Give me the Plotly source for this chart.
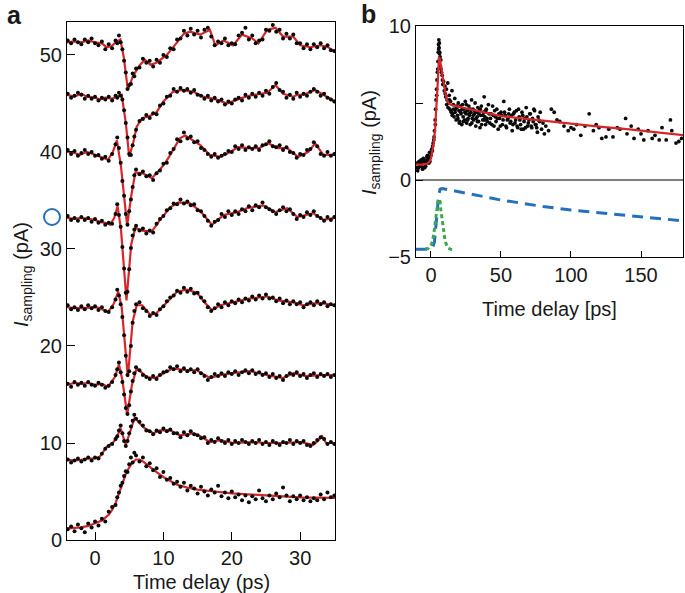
import plotly.graph_objects as go

# ---------------- Panel a data ----------------
# sampling grid of the measured points (ps)
DOT_T = [-4, -3.5, -3, -2.5, -2, -1.5, -1, -0.5, 0, 0.5, 1, 1.5, 2, 2.5,
         3, 3.25, 3.5, 3.75, 4, 4.25, 4.5, 4.75, 5, 5.25, 5.5, 5.75,
         6, 6.5, 7, 7.5, 8, 8.5, 9, 9.5, 10, 10.5, 11, 11.5, 12, 12.5, 13, 13.5,
         14, 14.5, 15, 15.5, 16, 16.5, 17, 17.5, 18, 18.5, 19, 19.5, 20, 20.5,
         21, 21.5, 22, 22.5, 23, 23.5, 24, 24.5, 25, 25.5, 26, 26.5, 27, 27.5,
         28, 28.5, 29, 29.5, 30, 30.5, 31, 31.5, 32, 32.5, 33, 33.5, 34, 34.5, 35]

dots_t8 = [51.5, 51.2, 51.6, 51.3, 51.1, 51.6, 51.3, 51.7, 51.2, 51.0, 51.4, 50.6, 51.1, 50.7,
           51.5, 51.2, 52.0, 51.3, 50.6, 49.4, 48.2, 46.5, 46.9, 47.0, 48.1, 47.8,
           48.6, 48.7, 49.6, 49.2, 49.4, 48.8, 49.5, 49.2, 50.0, 49.8, 50.7, 50.6, 51.6, 51.7, 52.5, 52.0,
           52.7, 52.1, 52.5, 51.8, 52.6, 52.8, 51.9, 51.0, 51.4, 51.2, 51.7, 51.0, 51.2, 51.1,
           52.0, 52.3, 52.8, 51.6, 52.0, 51.2, 51.5, 51.6, 52.6, 52.5, 53.1, 52.4, 52.6, 51.7,
           52.2, 51.7, 52.1, 51.2, 51.2, 50.7, 51.1, 50.6, 51.1, 50.8, 51.2, 50.7, 51.0, 50.5, 50.4]
dots_t7 = [46.0, 45.6, 45.8, 46.1, 45.9, 45.5, 45.8, 45.5, 45.7, 45.3, 45.6, 45.4, 45.7, 45.3,
           45.8, 45.6, 46.1, 45.8, 45.4, 44.3, 43.0, 41.5, 39.8, 39.7, 40.7, 41.6,
           42.3, 43.2, 43.4, 43.8, 43.5, 44.0, 43.9, 44.8, 45.0, 45.7, 45.8, 46.5, 46.2, 46.6, 46.3, 46.5,
           46.1, 46.4, 45.9, 45.8, 45.5, 45.8, 45.3, 45.6, 45.2, 45.4, 44.9, 45.2, 45.0, 45.4,
           45.6, 45.3, 45.9, 45.6, 46.0, 45.7, 46.1, 45.8, 46.3, 46.0, 46.7, 47.1, 46.4, 46.2,
           45.6, 45.9, 45.5, 46.1, 45.7, 46.0, 45.8, 46.2, 46.5, 46.2, 45.8, 46.0, 45.6, 45.4, 45.2]
dots_t6 = [40.2, 39.8, 40.1, 39.6, 39.9, 40.2, 39.8, 40.0, 39.6, 39.7, 39.3, 39.5, 39.1, 39.8,
           40.8, 41.5, 40.4, 38.9, 37.0, 35.5, 33.6, 32.5, 33.9, 35.1, 36.4, 37.6,
           38.2, 37.7, 38.0, 37.5, 37.6, 37.1, 37.8, 38.1, 38.8, 38.9, 39.9, 40.3, 41.3, 41.1, 42.0, 41.4,
           41.6, 41.0, 41.1, 40.4, 40.2, 39.8, 39.5, 39.8, 39.4, 39.6, 39.8, 40.1, 40.0, 40.6,
           40.3, 40.7, 40.2, 40.5, 40.3, 40.6, 40.2, 40.7, 40.8, 41.1, 40.6, 40.5, 40.7, 40.2,
           40.5, 40.0, 39.9, 39.4, 39.8, 39.7, 40.2, 40.3, 41.0, 40.6, 39.8, 39.6, 40.0, 39.6, 39.8]
dots_t5 = [33.4, 33.0, 33.2, 32.9, 33.3, 33.0, 33.2, 32.8, 33.1, 32.7, 32.9, 32.5, 32.7, 32.6,
           33.6, 34.6, 33.5, 32.3, 30.2, 28.0, 25.5, 25.6, 27.9, 30.1, 31.4, 32.0,
           32.4, 31.9, 32.1, 31.6, 31.9, 31.7, 32.6, 33.1, 33.4, 34.0, 34.2, 34.7, 34.6, 35.1, 34.7, 34.9,
           34.5, 34.6, 34.0, 33.9, 33.4, 32.9, 32.4, 32.8, 33.0, 33.6, 33.3, 33.9, 33.5, 33.9,
           33.6, 34.1, 33.9, 34.4, 34.0, 34.5, 34.3, 34.8, 34.3, 34.1, 33.9, 33.6, 34.0, 34.3,
           33.9, 34.1, 33.6, 33.1, 33.5, 33.3, 33.8, 33.5, 33.9, 33.4, 33.2, 32.9, 33.3, 33.0, 33.3]
dots_t4 = [24.2, 23.8, 24.0, 23.7, 24.1, 23.8, 24.2, 23.9, 24.1, 23.7, 24.0, 23.6, 23.5, 24.0,
           24.8, 25.8, 25.2, 24.3, 23.0, 21.1, 19.0, 17.0, 17.4, 20.0, 22.4, 23.6,
           24.3, 24.5, 23.9, 23.6, 23.1, 23.4, 23.2, 23.8, 24.1, 24.6, 25.0, 25.2, 25.7, 25.5, 26.0, 25.6,
           25.9, 25.4, 25.5, 25.0, 24.6, 24.0, 23.6, 23.9, 24.3, 24.0, 24.5, 24.2, 24.6, 24.4,
           24.8, 24.5, 24.9, 24.7, 25.1, 24.8, 25.2, 24.9, 25.3, 24.9, 25.0, 24.6, 24.9, 24.4,
           24.7, 24.3, 24.6, 24.3, 24.5, 24.0, 24.3, 24.5, 24.2, 24.6, 24.3, 24.5, 24.1, 24.3, 24.2]
dots_t3 = [16.1, 15.8, 16.3, 16.0, 16.2, 15.9, 16.3, 16.0, 15.9, 16.2, 16.0, 15.7, 15.9, 16.3,
           17.0, 17.6, 18.3, 17.3, 16.3, 15.0, 13.6, 13.0, 13.9, 15.3, 16.4, 17.2,
           17.8, 17.5, 17.0, 16.8, 16.6, 16.9, 16.6, 17.0, 17.3, 17.4, 17.8, 17.6, 17.9, 17.4, 17.7, 17.4,
           17.6, 17.3, 17.6, 17.2, 16.9, 16.5, 16.8, 17.1, 16.9, 17.2, 16.9, 17.3, 17.1, 17.4,
           17.0, 17.3, 17.5, 17.2, 17.5, 17.1, 17.3, 17.0, 17.2, 16.8, 17.1, 16.7, 16.9, 16.5,
           16.9, 17.2, 17.0, 17.3, 16.9, 17.1, 16.7, 17.0, 17.2, 16.8, 17.1, 16.9, 17.1, 16.8, 17.0]
dots_t2 = [8.3, 8.0, 8.2, 8.4, 8.1, 8.3, 8.5, 8.2, 8.5, 8.4, 8.9, 9.4, 9.7, 9.9,
           10.4, 10.7, 11.3, 11.8, 11.0, 10.2, 9.7, 10.2, 11.0, 11.7, 12.3, 12.9,
           12.5, 12.2, 11.8, 11.3, 11.2, 10.9, 11.3, 11.1, 11.5, 11.2, 11.4, 11.0, 11.0, 10.6, 11.1, 10.8,
           11.2, 10.9, 10.8, 10.5, 10.6, 10.0, 10.3, 10.1, 10.5, 10.2, 10.0, 10.3, 9.9, 10.2,
           10.0, 10.3, 10.1, 9.9, 10.2, 10.0, 10.3, 9.9, 10.1, 9.8, 10.2, 10.0, 9.8, 10.1,
           10.0, 10.3, 9.9, 10.2, 10.0, 10.2, 9.8, 9.7, 10.0, 10.3, 10.6, 10.4, 9.9, 10.1, 9.9]
dots_t1 = [1.1, 1.4, 0.9, 1.6, 1.2, 0.8, 1.7, 1.3, 1.9, 1.5, 2.2, 1.9, 2.9, 3.4,
           3.6, 4.4, 4.9, 5.6, 5.9, 6.6, 7.1, 7.0, 7.8, 8.5, 8.0, 9.0,
           8.7, 8.1, 8.5, 7.6, 7.9, 7.2, 7.4, 6.5, 7.0, 6.2, 6.4, 5.8, 6.0, 5.5, 5.9, 5.1,
           5.6, 5.3, 4.8, 5.5, 5.0, 4.6, 5.2, 4.9, 5.6, 4.5, 4.9, 4.3, 5.0, 4.4,
           4.7, 4.1, 4.6, 3.9, 4.5, 4.2, 5.1, 4.3, 4.0, 4.6, 4.2, 4.8, 4.4, 5.4,
           4.6, 4.0, 4.5, 4.2, 4.6, 4.1, 4.4, 4.0, 4.3, 4.1, 4.7, 4.2, 4.9, 4.4, 4.6]

# smoothed (red) curves: (time, value) pairs
fit_t8_t = [-4.1, -3, -2, -1, 0, 1, 1.7, 2.4, 3.0, 3.7, 4.2, 4.8, 5.6, 6.6, 7.3, 8.1, 9.0, 10.5, 12.0, 13.0,
            13.9, 15.4, 16.8, 17.6, 18.8, 20.2, 21.5, 23.0, 23.9, 25.2, 26.4, 27.5, 29.0, 30.0, 31.5, 33.0, 34.1, 35.1]
fit_t8_y = [51.3, 51.4, 51.3, 51.5, 51.3, 51.2, 50.8, 50.9, 51.3, 51.6, 49.8, 46.4, 47.9, 49.0, 49.5, 49.0, 49.2, 50.0, 51.3, 52.2,
            52.4, 52.1, 52.6, 51.0, 51.5, 51.0, 52.1, 51.7, 51.2, 52.6, 52.8, 51.9, 51.9, 51.0, 50.8, 51.0, 50.8, 50.3]
fit_t7_t = [-4.1, -3, -2, -1.2, 0, 0.7, 1.5, 2.5, 3.2, 3.9, 4.5, 5.0, 5.6, 6.1, 6.9, 7.6, 8.3, 9.0, 10.0, 11.4,
            12.7, 14.4, 15.8, 17.8, 19.3, 20.2, 21.2, 22.5, 23.7, 25.2, 26.4, 27.5, 29.0, 29.6, 30.5, 32.2, 33.4, 35.1]
fit_t7_y = [45.9, 45.7, 46.0, 45.7, 45.6, 45.4, 45.6, 45.5, 45.7, 45.9, 43.0, 39.5, 41.0, 42.6, 43.5, 43.6, 43.8, 44.1, 45.2, 46.2,
            46.4, 46.2, 45.7, 45.4, 45.0, 45.2, 45.5, 45.8, 45.9, 46.1, 46.9, 46.0, 45.7, 45.9, 45.9, 46.4, 45.9, 45.2]
fit_t6_t = [-4.1, -3, -2.2, -1.2, -0.3, 0.7, 1.9, 2.6, 3.2, 3.8, 4.7, 5.3, 5.9, 7.0, 8.3, 9.5, 10.3, 11.0, 12.4, 13.2,
            13.9, 15.4, 16.8, 18.3, 19.8, 20.9, 22.7, 24.0, 25.3, 26.8, 28.1, 29.7, 31.2, 32.2, 33.4, 35.1]
fit_t6_y = [40.0, 39.9, 39.7, 40.0, 39.8, 39.5, 39.2, 40.0, 41.2, 38.5, 32.4, 35.5, 37.9, 37.8, 37.3, 38.2, 38.9, 39.7, 41.4, 41.7,
            41.4, 40.7, 39.7, 39.5, 40.0, 40.5, 40.4, 40.4, 40.9, 40.4, 40.4, 39.5, 40.0, 40.9, 39.7, 39.7]
fit_t5_t = [-4.1, -3, -2, -1.2, 0, 0.7, 1.5, 2.2, 2.8, 3.3, 3.8, 4.6, 5.3, 5.9, 6.9, 8.3, 9.5, 11.0, 12.2, 13.9,
            15.4, 17.1, 18.8, 20.8, 22.2, 24.6, 26.4, 28.1, 29.6, 31.9, 33.4, 35.1]
fit_t5_y = [33.2, 33.1, 33.2, 33.1, 33.0, 32.8, 32.7, 32.5, 33.2, 34.4, 32.0, 24.7, 30.5, 32.2, 31.9, 31.8, 33.0, 34.3, 34.8, 34.7,
            33.9, 32.5, 33.5, 33.8, 34.2, 34.5, 33.8, 34.2, 33.3, 33.7, 33.0, 33.2]
fit_t4_t = [-4.1, -3, -1.7, 0, 0.7, 1.9, 2.7, 3.4, 3.9, 4.8, 5.5, 6.1, 6.9, 8.1, 9.0, 10.5, 12.0, 13.4, 14.9, 16.0,
            17.1, 18.3, 20.2, 22.7, 25.2, 26.7, 29.0, 30.5, 31.9, 33.4, 35.1]
fit_t4_y = [24.0, 23.9, 23.9, 24.0, 23.9, 23.5, 24.3, 25.6, 24.0, 16.8, 22.5, 24.2, 24.2, 23.2, 23.4, 24.5, 25.6, 25.8, 25.5, 24.5,
            23.7, 24.2, 24.5, 24.9, 25.1, 24.7, 24.5, 24.2, 24.4, 24.4, 24.2]
fit_t3_t = [-4.1, -3, -2, -1, 0, 1, 1.9, 2.9, 3.5, 4.0, 4.7, 5.4, 6.1, 7.6, 8.8, 10.0, 11.4, 13.4, 14.9, 16.8,
            18.3, 20.2, 22.7, 25.2, 27.5, 29.0, 30.8, 33.0, 35.1]
fit_t3_y = [16.0, 16.2, 16.1, 16.2, 16.0, 16.1, 15.8, 16.8, 18.1, 16.5, 12.9, 16.0, 17.7, 16.8, 16.7, 17.2, 17.7, 17.5, 17.5, 16.7,
            17.0, 17.2, 17.4, 17.0, 16.7, 17.2, 16.9, 17.0, 17.0]
fit_t2_t = [-4.1, -3, -2.2, -1, 0, 0.7, 1.7, 2.7, 3.2, 3.7, 4.5, 5.8, 7.1, 8.5, 9.5, 11.0, 12.4, 14.4, 15.4, 16.8,
            18.3, 20.2, 22.7, 25.2, 27.5, 30.0, 31.9, 32.6, 33.2, 33.8, 35.1]
fit_t2_y = [8.25, 8.2, 8.25, 8.4, 8.4, 8.6, 9.6, 10.1, 10.5, 11.6, 9.8, 12.6, 11.6, 11.0, 11.3, 11.3, 10.8, 11.0, 10.7, 10.1,
            10.3, 10.0, 10.1, 10.0, 10.0, 10.1, 9.8, 10.2, 10.7, 10.0, 10.0]
fit_t1_t = [-4.1, -3, -2, -1, 0, 1, 1.5, 2, 2.5, 3, 3.5, 4, 4.5, 5, 5.5, 6, 6.5, 7, 8, 9,
            10, 11, 12, 13.5, 15, 17.5, 20, 25, 30, 35.1]
fit_t1_y = [1.2, 1.25, 1.3, 1.45, 1.7, 2.0, 2.3, 2.6, 3.1, 3.8, 4.8, 5.8, 6.8, 7.5, 8.0, 8.3, 8.3, 8.1, 7.5, 7.0,
            6.5, 6.1, 5.7, 5.4, 5.2, 5.0, 4.8, 4.6, 4.4, 4.35]

DOTS_A = [dots_t1, dots_t2, dots_t3, dots_t4, dots_t5, dots_t6, dots_t7, dots_t8]
FITS_A = [(fit_t1_t, fit_t1_y), (fit_t2_t, fit_t2_y), (fit_t3_t, fit_t3_y), (fit_t4_t, fit_t4_y),
          (fit_t5_t, fit_t5_y), (fit_t6_t, fit_t6_y), (fit_t7_t, fit_t7_y), (fit_t8_t, fit_t8_y)]

# ---------------- Panel b data ----------------
b_dots_t = [-10, -9.5, -9, -8.5, -8, -7.5, -7, -6.5, -6, -5.5, -5, -4.5, -4, -3.5, -3, -2.5, -2, -1.5, -1, -0.5,
            0, 0.5, 1, 1.5, 2, 2.5, 3, 3.3, 3.6, 4, 4.3, 4.6, 5, 5.2, 5.4, 5.6, 5.8, 6, 6.2, 6.5,
            6.8, 7, 7.5, 8, 8.5, 9, 9.5, 10, 10.5, 11, 11.5, 12, 12.5, 13, 13.5, 14, 14.5, 15, 15.5, 16,
            16.5, 17, 17.5, 18, 18.5, 19, 19.5, 20, 20.5, 21, 21.5, 22, 22.5, 23, 23.5, 24, 24.5, 25, 25.5, 26,
            26.5, 27, 27.5, 28, 28.5, 29, 29.5, 30, 30.5, 31, 31.5, 32, 32.5, 33, 33.5, 34, 34.5, 35, 35.5, 36,
            37, 37.5, 38, 38.5, 39, 39.5, 40, 41, 42, 43, 44, 45, 46, 47, 48, 49, 50, 51, 52, 53,
            54, 55, 56, 57, 58, 59, 60, 61, 62, 63, 64, 65, 66, 67, 68, 69, 70, 71, 72, 73,
            74, 75, 76, 77, 78, 79, 80, 81, 82, 84, 86, 88, 90, 92, 95, 98, 100, 102, 104, 107,
            110, 113, 116, 118, 120, 122, 125, 127, 130, 133, 135, 139, 140, 143, 145, 148, 150, 152, 155, 158,
            160, 163, 165, 168, 171, 172, 175, 177, 179,
            10.2, 11.2, 12.2, 13.2, 14.2, 15.2, 16.2, 17.2, 18.2, 19.2, 20.2, 21.2, 22.2, 23.2, 24.2, 25.2, 26.2,
            27.2, 28.2, 29.2, 30.2, 31.2, 32.2, 33.2, 34.2, 35.2, 36.2, 37.2, 38.2, 39.2, 40.2, 41.5, 42.5, 43.5,
            44.5, 45.5, 46.5, 47.5, 48.5, 49.5, 50.5, 51.5, 52.5, 53.5, 54.5, 55.5, 56.5, 57.5, 58.5, 59.5, 60.5,
            61.5, 62.5, 63.5, 64.5, 65.5, 66.5, 67.5, 68.5, 69.5, 70.5, 71.5, 72.5, 73.5, 74.5, 75.5, 76.5, 77.5,
            -9.8, -8.8, -7.8, -6.8, -5.8, -4.8, -3.8, -2.8, -1.8, -0.8, 0.2, 1.2, 2.2, 3.1, 4.1, 4.8, 5.5, 6.1, 7.2, 8.2]
b_dots_y = [0.8, 0.6, 1.1, 1.2, 0.9, 1.0, 1.3, 0.9, 0.7, 1.4, 1.2, 0.8, 1.0, 1.2, 1.5, 1.6, 1.3, 1.1, 1.8, 1.5,
            1.6, 2.0, 1.9, 2.4, 2.6, 3.2, 3.9, 4.6, 5.2, 5.9, 6.5, 7.0, 7.7, 8.3, 8.8, 9.1, 8.6, 8.9, 8.3, 8.0,
            7.4, 7.8, 7.0, 6.8, 6.2, 6.4, 5.8, 6.1, 5.4, 5.9, 5.2, 6.3, 5.0, 5.5, 4.6, 5.1, 4.4, 5.8, 4.3, 4.9,
            4.1, 5.3, 4.6, 3.9, 4.7, 4.2, 5.0, 4.5, 3.8, 4.8, 4.3, 3.6, 4.9, 4.1, 4.6, 3.9, 5.1, 4.3, 3.7, 4.5,
            4.0, 4.8, 4.2, 3.6, 4.4, 5.2, 4.0, 4.6, 3.9, 4.3, 5.0, 3.5, 4.4, 4.1, 4.7, 3.8, 4.5, 3.4, 4.2, 4.8,
            3.9, 4.4, 5.4, 4.1, 3.6, 4.6, 4.0, 4.9, 3.7, 4.3, 4.8, 3.5, 4.1, 4.6, 3.3, 4.0, 4.4, 3.6, 5.1, 4.2,
            3.4, 4.0, 4.6, 3.8, 3.2, 4.3, 3.7, 4.5, 3.4, 4.1, 3.6, 4.4, 3.3, 4.0, 4.7, 3.5, 3.9, 4.3, 3.4, 3.8,
            4.5, 3.6, 3.1, 3.9, 4.4, 3.3, 3.7, 3.0, 3.5, 3.2, 4.6, 4.4, 3.9, 3.8, 3.5, 3.2, 3.4, 3.3, 3.6, 2.9,
            3.5, 4.3, 3.2, 3.6, 3.4, 2.7, 2.8, 3.3, 2.8, 3.4, 3.3, 4.0, 3.0, 3.5, 2.7, 3.3, 3.0, 2.6, 3.2, 2.7,
            2.9, 2.6, 3.4, 2.6, 3.9, 3.2, 2.4, 2.5, 2.7,
            5.6, 4.9, 4.7, 5.2, 4.5, 4.2, 4.6, 4.4, 4.8, 4.0, 3.7, 4.4, 4.6, 3.8, 4.4, 4.9, 3.9,
            4.3, 4.6, 3.7, 4.2, 4.5, 4.0, 3.8, 4.3, 4.6, 3.6, 4.2, 3.9, 4.5, 3.8, 4.3, 4.0, 3.6,
            4.2, 4.5, 3.8, 4.0, 4.3, 3.5, 4.2, 3.9, 4.4, 3.5, 3.9, 4.3, 3.7, 4.2, 3.6, 4.4, 3.9,
            3.5, 4.6, 3.9, 3.3, 4.2, 3.8, 3.4, 4.1, 3.7, 4.3, 3.5, 4.0, 4.6, 3.6, 3.4, 4.1, 3.8,
            1.1, 0.8, 1.2, 1.1, 0.8, 1.3, 0.9, 1.3, 1.4, 1.2, 1.8, 2.2, 2.8, 3.6, 5.5, 7.2, 8.5, 8.2, 7.2, 6.5]

b_fit_t = [-10.7, -6, -3, -1, 0, 1, 2, 3, 4, 5, 5.7, 6.5, 7.5, 8.6, 10, 11.4, 13, 15, 20, 30,
           40, 50, 60, 80, 100, 120, 140, 160, 181]
b_fit_y = [1.0, 1.0, 1.05, 1.2, 1.4, 1.8, 2.4, 3.4, 4.8, 6.6, 8.0, 7.8, 7.2, 6.5, 5.8, 5.2, 4.95, 4.85, 4.75, 4.55,
           4.35, 4.15, 4.05, 3.85, 3.65, 3.47, 3.3, 3.1, 2.9]

b_blue_t = [-10.7, -4, 0, 1.5, 2.5, 3.5, 4.5, 5.5, 6.5, 8, 20, 40, 50, 60, 80, 100, 120, 140, 160, 181]
b_blue_y = [-4.5, -4.5, -4.45, -4.3, -4.0, -3.2, -2.0, -1.0, -0.6, -0.55, -0.78, -1.12, -1.3, -1.45, -1.72, -1.95,
            -2.13, -2.32, -2.5, -2.66]

b_green_t = [-4, -2, 0, 1, 2, 3, 4, 5, 5.7, 6.5, 7, 8, 9, 10, 11, 12, 14, 16]
b_green_y = [-4.5, -4.45, -4.25, -4.0, -3.5, -2.8, -2.0, -1.4, -1.23, -1.4, -1.9, -2.7, -3.4, -3.9, -4.2, -4.4, -4.5, -4.52]

RED = "rgb(214,38,42)"
DOT = "rgb(10,10,10)"
FONT = "Liberation Sans, Arial, Helvetica, sans-serif"
TXT = "rgb(25,25,25)"

fig = go.Figure()

for (ft, fy), dy in zip(FITS_A, DOTS_A):
    fig.add_trace(go.Scatter(x=ft, y=fy, mode="lines", line=dict(color=RED, width=2.2),
                             xaxis="x", yaxis="y", showlegend=False, hoverinfo="skip"))
    fig.add_trace(go.Scatter(x=DOT_T, y=dy, mode="markers", marker=dict(color=DOT, size=4),
                             xaxis="x", yaxis="y", showlegend=False, hoverinfo="skip"))

fig.add_trace(go.Scatter(x=b_dots_t, y=b_dots_y, mode="markers", marker=dict(color=DOT, size=3.8),
                         xaxis="x2", yaxis="y2", showlegend=False))
fig.add_trace(go.Scatter(x=b_fit_t, y=b_fit_y, mode="lines", line=dict(color=RED, width=2.2),
                         xaxis="x2", yaxis="y2", showlegend=False))
fig.add_trace(go.Scatter(x=b_blue_t, y=b_blue_y, mode="lines",
                         line=dict(color="rgb(38,112,186)", width=3, dash="11px,7px"),
                         xaxis="x2", yaxis="y2", showlegend=False))
fig.add_trace(go.Scatter(x=b_green_t, y=b_green_y, mode="lines",
                         line=dict(color="rgb(58,168,78)", width=3, dash="4px,3px"),
                         xaxis="x2", yaxis="y2", showlegend=False))

W, H = 685, 593
ax_common = dict(showline=True, linecolor="black", linewidth=1, mirror=True, ticks="inside",
                 tickcolor="black", ticklen=8, tickwidth=1, showgrid=False, zeroline=False,
                 automargin=False, tickfont=dict(family=FONT, size=20, color=TXT))

fig.update_layout(
    width=W, height=H, margin=dict(l=0, r=0, t=0, b=0, autoexpand=False),
    paper_bgcolor="white", plot_bgcolor="white",
    xaxis=dict(domain=[67 / W, 335 / W], range=[-4.1, 35.1], tickvals=[0, 10, 20, 30], anchor="y", **ax_common),
    yaxis=dict(domain=[(H - 540) / H, (H - 22) / H], range=[0, 53.4], tickvals=[0, 10, 20, 30, 40, 50],
               anchor="x", **ax_common),
    xaxis2=dict(domain=[416 / W, 683 / W], range=[-10.7, 180], tickvals=[0, 50, 100, 150], anchor="y2",
                **{**ax_common, "ticklen": 6}),
    yaxis2=dict(domain=[(H - 257) / H, (H - 26) / H], range=[-5, 10], tickvals=[-5, 0, 5, 10],
                ticktext=["\u22125", "0", " ", "10"], anchor="x2", **{**ax_common, "ticklen": 7}),
)

# horizontal divider at zero in panel b
fig.add_shape(type="line", xref="x2 domain", yref="y2", x0=0, x1=1, y0=0, y1=0,
              line=dict(color="black", width=1.2))
# blue open circle marker next to panel a axis
fig.add_shape(type="circle", xref="paper", yref="paper",
              x0=44 / W, x1=60 / W, y0=(H - 225) / H, y1=(H - 209) / H,
              line=dict(color="rgb(38,112,186)", width=2))

ann = [
    dict(text="<b>a</b>", x=14 / W, y=(H - 15) / H, font=dict(size=25)),
    dict(text="<b>b</b>", x=368 / W, y=(H - 14) / H, font=dict(size=25)),
    dict(text="Time delay (ps)", x=201 / W, y=(H - 582) / H, font=dict(size=20)),
    dict(text="Time delay [ps]", x=549 / W, y=(H - 309) / H, font=dict(size=20)),
    dict(text="<i>I</i><sub>sampling</sub> (pA)", x=22 / W, y=(H - 275) / H, font=dict(size=20), textangle=-90),
    dict(text="<i>I</i><sub>sampling</sub> (pA)", x=370 / W, y=(H - 143) / H, font=dict(size=20), textangle=-90),
]
for a in ann:
    f = a.pop("font")
    fig.add_annotation(xref="paper", yref="paper", showarrow=False, xanchor="center", yanchor="middle",
                       font=dict(family=FONT, color=TXT, **f), **a)

fig.write_html("out.html", config={"displayModeBar": False},
               post_script="document.body.style.margin='0px';document.body.style.overflow='hidden';")
